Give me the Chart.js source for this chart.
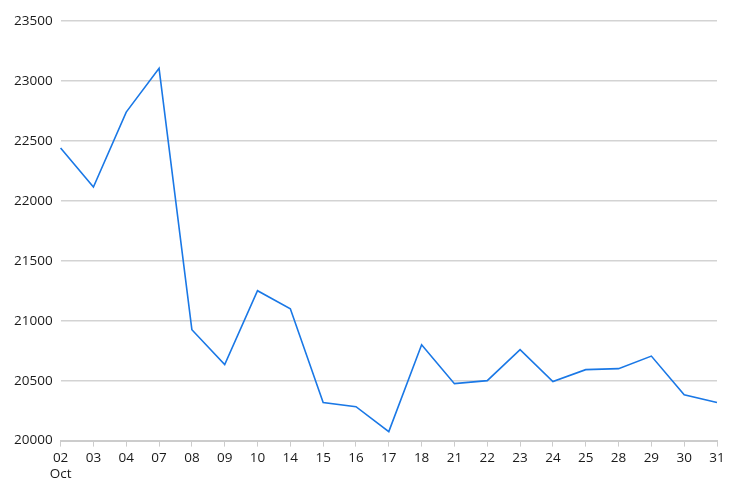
<!DOCTYPE html>
<html><head><meta charset="utf-8">
<script src="https://cdn.jsdelivr.net/npm/chart.js@4/dist/chart.umd.min.js"></script>
<style>html,body{margin:0;padding:0;background:#fff}#wrap{width:739px;height:493px}</style>
</head><body><div id="wrap"><canvas id="c"></canvas></div>
<script>
const categories = [['02','Oct'],'03','04','07','08','09','10','14','15','16','17','18','21','22','23','24','25','28','29','30','31'];
const values = [22440,22115,22740,23105,20925,20635,21250,21100,20318,20283,20075,20800,20475,20500,20758,20492,20592,20600,20705,20383,20318];
const yTicks = {min:20000, max:23500, step:500};

Chart.defaults.font.family = '"Open Sans", sans-serif';
Chart.defaults.font.size = 13.5;
Chart.defaults.color = '#1a1a1a';
new Chart(document.getElementById('c'), {
  type:'line',
  data:{labels:categories, datasets:[{data:values, borderColor:'#1a78e6', borderWidth:1.6, pointRadius:0, tension:0, fill:false}]},
  options:{
    responsive:true, maintainAspectRatio:false, animation:false,
    layout:{padding:{top:21,right:22,bottom:8,left:6}},
    plugins:{legend:{display:false}, tooltip:{enabled:false}},
    scales:{
      x:{offset:false, grid:{drawOnChartArea:false, drawTicks:true, tickLength:6, color:'#cccccc', lineWidth:1},
         border:{display:true, color:'#cccccc', width:2},
         ticks:{maxRotation:0, autoSkip:false, padding:3, color:'#1a1a1a'}},
      y:{min:yTicks.min, max:yTicks.max, grid:{color:'#d3d3d3', lineWidth:1.5, drawTicks:false}, border:{display:false},
         ticks:{stepSize:yTicks.step, padding:8, color:'#1a1a1a', callback:v=>String(v)}}
    }
  }
});
</script></body></html>
